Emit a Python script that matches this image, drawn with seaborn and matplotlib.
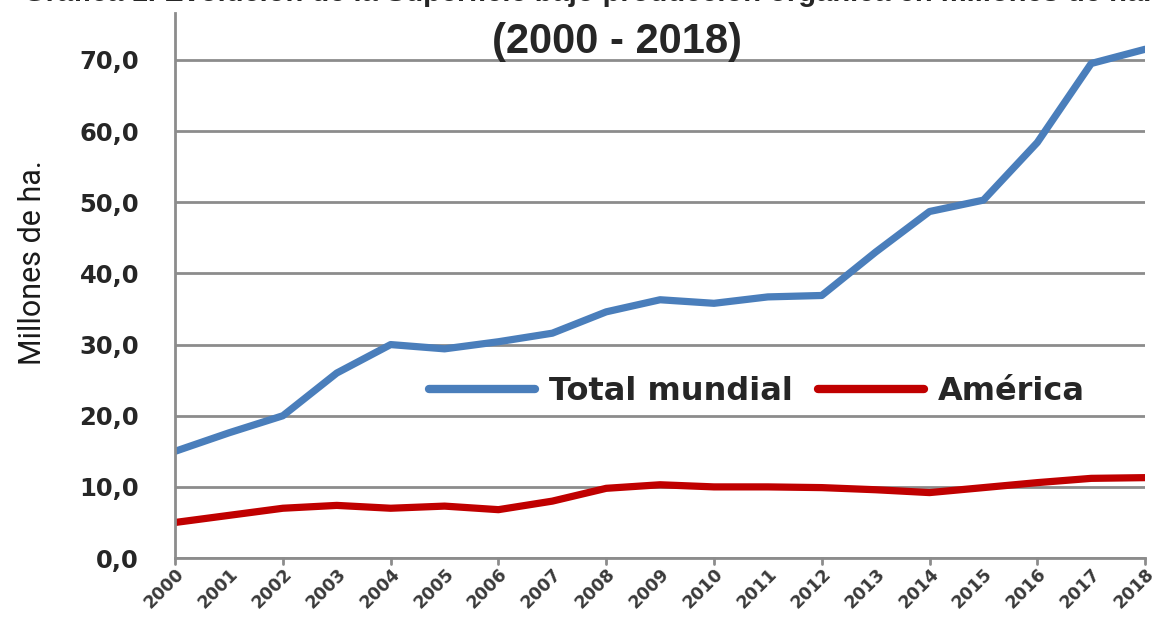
import pandas as pd
import matplotlib.pyplot as plt
import seaborn as sns

sns.set_style("white")

# Data (millions of hectares)
years = list(range(2000, 2019))
total_mundial = [15.0, 17.6, 20.0, 26.0, 30.0, 29.4, 30.4, 31.6, 34.6, 36.3,
                 35.8, 36.7, 36.9, 43.0, 48.7, 50.3, 58.4, 69.5, 71.5]
america = [5.0, 6.0, 7.0, 7.4, 7.0, 7.3, 6.8, 8.0, 9.8, 10.3,
           10.0, 10.0, 9.9, 9.6, 9.2, 9.9, 10.6, 11.2, 11.3]
series_names = ["Total mundial", "América"]
colors = ["#4A7EBB", "#C00000"]
y_ticks = [0, 10, 20, 30, 40, 50, 60, 70]

df = pd.DataFrame({
    "year": years * 2,
    "value": total_mundial + america,
    "serie": [series_names[0]] * len(years) + [series_names[1]] * len(years),
})

fig = plt.figure(figsize=(11.52, 6.18), dpi=100)
ax = fig.add_axes([0.152, 0.097, 0.842, 0.882])

sns.lineplot(data=df, x="year", y="value", hue="serie", palette=colors,
             linewidth=5.2, ax=ax, legend=False)

ax.set_xlim(2000, 2018)
ax.set_ylim(0, 76.6)
ax.set_yticks(y_ticks)
ax.set_yticklabels([f"{v:.1f}".replace(".", ",") for v in y_ticks],
                   fontsize=17.5, fontweight="bold", color="#262626")
ax.set_xticks(years)
ax.set_xticklabels([str(y) for y in years], rotation=45, ha="right",
                   rotation_mode="anchor", fontsize=12.5, fontweight="bold",
                   color="#3a3a3a")
ax.tick_params(axis="x", length=0, pad=5)
ax.tick_params(axis="y", length=9, width=2, color="#8c8c8c", direction="out", pad=17)
# tick marks every two years on the x axis
for yr in years[::2]:
    ax.plot([yr, yr], [0, -0.8], color="#8c8c8c", lw=2, clip_on=False)

ax.grid(axis="y", color="#8c8c8c", linewidth=2)
ax.set_axisbelow(True)
for side in ["top", "right"]:
    ax.spines[side].set_visible(False)
for side in ["left", "bottom"]:
    ax.spines[side].set_color("#8c8c8c")
    ax.spines[side].set_linewidth(2)

ax.set_xlabel("")
ax.set_ylabel("Millones de ha.", fontsize=22, family="Roboto", color="#1a1a1a")
ax.yaxis.set_label_coords(-0.132, 0.543)

# legend
handles = [plt.Line2D([], [], color=c, lw=6) for c in colors]
ax.legend(handles, series_names, ncol=2, frameon=False, loc="center",
          bbox_to_anchor=(0.60, 0.306), handlelength=3.3, handletextpad=0.45,
          columnspacing=0.8, prop={"weight": "bold", "size": 23})

ax.text(0.456, 0.947, "(2000 - 2018)", transform=ax.transAxes, ha="center",
        va="center", fontsize=30, fontweight="bold", family="Liberation Sans")

# top title line, cropped in the original
fig.text(0.51, 0.9985, "Gráfica 1. Evolución de la Superficie bajo producción orgánica en millones de ha.",
         ha="center", va="baseline", fontsize=21, fontweight="bold",
         family="Liberation Sans")

fig.savefig("out.png", dpi=100)
